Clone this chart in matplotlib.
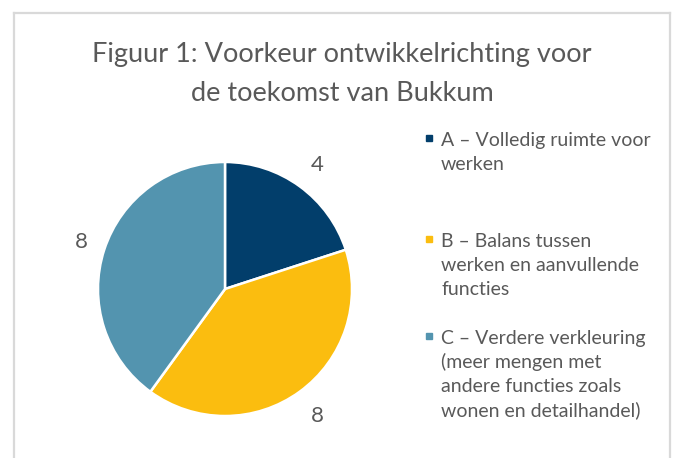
import matplotlib
matplotlib.use("Agg")
import numpy as np
import matplotlib.pyplot as plt
from matplotlib.lines import Line2D
from matplotlib.patches import Rectangle

# ---- data ----
categories = ["A", "B", "C"]
values = [4, 8, 8]
legend_labels = [
    ["A – Volledig ruimte voor", "werken"],
    ["B – Balans tussen", "werken en aanvullende", "functies"],
    ["C – Verdere verkleuring", "(meer mengen met", "andere functies zoals", "wonen en detailhandel)"],
]
title_lines = ["Figuur 1: Voorkeur ontwikkelrichting voor", "de toekomst van Bukkum"]
colors = ["#023E6B", "#FBBD0F", "#5394AF"]
text_color = "#595959"

W, H = 675, 458
fig = plt.figure(figsize=(W / 100, H / 100), dpi=100)
fig.patch.set_facecolor("white")
plt.rcParams["font.family"] = ["Lato", "DejaVu Sans"]


def fx(x):
    return x / W


def fy(y):
    return 1 - y / H


# chart border (top, left, right)
bc = "#D9D9D9"
for xs, ys in [((14, 670), (13, 13)), ((14, 14), (13, 460)), ((670, 670), (13, 460))]:
    fig.add_artist(Line2D([fx(v) for v in xs], [fy(v) for v in ys], color=bc, lw=1.6,
                          transform=fig.transFigure))

# title
title_base = [62, 101]
for line, yb in zip(title_lines, title_base):
    fig.text(fx(342), fy(yb), line, ha="center", va="baseline", fontsize=19.5, color=text_color)

# pie
cx, cy, r = 225, 289, 127
ax = fig.add_axes([fx(cx - r), fy(cy + r), 2 * r / W, 2 * r / H])
wedges, texts = ax.pie(
    values, colors=colors, startangle=90, counterclock=False,
    wedgeprops=dict(edgecolor="white", linewidth=1.8),
    labels=[str(v) for v in values], labeldistance=None,
)
for w, v in zip(wedges, values):
    ang = np.deg2rad((w.theta1 + w.theta2) / 2)
    d = 1.22
    ax.text(d * np.cos(ang) + (0.03 if np.cos(ang) < 0 else 0.01), d * np.sin(ang) - 0.01, str(v),
            ha="center", va="center", fontsize=16, color=text_color)
ax.set_xlim(-1, 1)
ax.set_ylim(-1, 1)
ax.set_aspect("equal")
ax.axis("off")

# legend (manual, multi-line entries)
legend_first_base = [146, 247, 344]
line_step = 24
for lab, col, yb in zip(legend_labels, colors, legend_first_base):
    fig.add_artist(Rectangle((fx(426), fy(yb - 5)), 6 / W, 6 / H, color=col,
                             transform=fig.transFigure))
    for i, t in enumerate(lab):
        fig.text(fx(441), fy(yb + i * line_step), t, ha="left", va="baseline",
                 fontsize=14, color=text_color)

fig.savefig("out.png", dpi=100, facecolor="white")
